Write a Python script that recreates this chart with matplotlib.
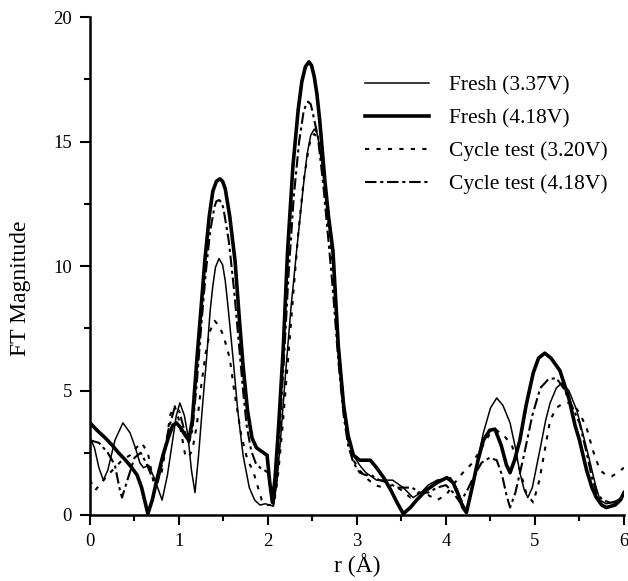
import matplotlib
matplotlib.use("Agg")
import matplotlib.pyplot as plt
from matplotlib.ticker import MultipleLocator

# ── data (r in Å, FT magnitude) ──────────────────────────────────────────────
r_fresh_337 = [0.00, 0.05, 0.10, 0.15, 0.20, 0.28, 0.37, 0.45, 0.51, 0.56, 0.60, 0.66,
               0.72, 0.81, 0.87, 0.92, 0.97, 1.01, 1.06, 1.10, 1.14, 1.18, 1.22, 1.26,
               1.31, 1.35, 1.38, 1.41, 1.45, 1.49, 1.52, 1.55, 1.61, 1.66, 1.72, 1.79,
               1.85, 1.91, 1.97, 2.02, 2.06, 2.10, 2.14, 2.20, 2.26, 2.33, 2.40, 2.44,
               2.48, 2.52, 2.55, 2.58, 2.62, 2.68, 2.73, 2.79, 2.85, 2.90, 2.96, 3.03,
               3.10, 3.22, 3.30, 3.40, 3.52, 3.63, 3.72, 3.80, 3.90, 4.05, 4.13, 4.18,
               4.23, 4.30, 4.36, 4.42, 4.50, 4.57, 4.64, 4.72, 4.78, 4.83, 4.88, 4.92,
               4.97, 5.06, 5.12, 5.17, 5.24, 5.30, 5.38, 5.47, 5.55, 5.62, 5.68, 5.73,
               5.80, 5.86, 5.93, 6.00]
ft_fresh_337 = [3.1, 2.7, 1.9, 1.4, 1.8, 3.0, 3.7, 3.3, 2.7, 2.1, 1.9, 2.0,
                1.5, 0.6, 1.6, 2.8, 4.0, 4.5, 4.0, 3.2, 1.8, 0.9, 2.4, 4.2,
                6.3, 8.2, 9.2, 9.95, 10.3, 10.05, 9.4, 8.4, 6.2, 4.2, 2.4, 1.1,
                0.6, 0.4, 0.45, 0.4, 0.35, 1.3, 3.0, 5.8, 8.4, 10.9, 13.3, 14.5,
                15.25, 15.5, 15.35, 14.8, 13.8, 11.9, 10.4, 7.0, 4.6, 3.2, 2.4, 2.0,
                1.7, 1.4, 1.4, 1.4, 1.1, 0.7, 0.9, 1.2, 1.4, 1.5, 1.0, 0.5,
                0.2, 1.2, 2.3, 3.3, 4.3, 4.7, 4.4, 3.7, 2.7, 1.7, 1.0, 0.7,
                1.1, 2.7, 3.8, 4.5, 5.1, 5.3, 5.0, 4.2, 3.1, 2.1, 1.2, 0.6,
                0.45, 0.5, 0.6, 0.8]

r_fresh_418 = [0.00, 0.08, 0.17, 0.25, 0.32, 0.40, 0.47, 0.53, 0.58, 0.62, 0.65, 0.70,
               0.75, 0.82, 0.88, 0.93, 0.97, 1.02, 1.07, 1.11, 1.15, 1.20, 1.25, 1.29,
               1.34, 1.38, 1.42, 1.46, 1.49, 1.52, 1.57, 1.63, 1.68, 1.72, 1.77, 1.82,
               1.87, 1.93, 1.99, 2.02, 2.05, 2.08, 2.12, 2.17, 2.22, 2.28, 2.34, 2.38,
               2.42, 2.46, 2.49, 2.52, 2.55, 2.58, 2.64, 2.68, 2.73, 2.79, 2.85, 2.90,
               2.96, 3.03, 3.10, 3.15, 3.22, 3.30, 3.38, 3.45, 3.52, 3.60, 3.67, 3.78,
               3.90, 4.01, 4.08, 4.14, 4.19, 4.23, 4.30, 4.36, 4.42, 4.49, 4.55, 4.62,
               4.68, 4.72, 4.77, 4.83, 4.90, 4.98, 5.04, 5.11, 5.18, 5.28, 5.38, 5.45,
               5.50, 5.58, 5.64, 5.69, 5.75, 5.80, 5.90, 5.96, 6.00]
ft_fresh_418 = [3.7, 3.4, 3.1, 2.8, 2.5, 2.2, 1.9, 1.6, 1.1, 0.5, 0.05, 0.6,
                1.4, 2.4, 3.1, 3.6, 3.7, 3.5, 3.2, 3.0, 3.8, 6.2, 8.4, 10.2,
                12.0, 13.0, 13.4, 13.5, 13.4, 13.1, 12.0, 10.2, 7.8, 6.0, 4.2, 3.1,
                2.7, 2.55, 2.4, 1.3, 0.5, 1.5, 3.6, 6.6, 10.6, 14.0, 16.3, 17.4,
                18.0, 18.2, 18.05, 17.6, 16.9, 15.9, 13.4, 12.0, 10.6, 6.8, 4.4, 3.2,
                2.4, 2.2, 2.2, 2.2, 1.9, 1.5, 1.0, 0.5, 0.05, 0.3, 0.6, 1.0,
                1.3, 1.5, 1.3, 0.8, 0.3, 0.1, 1.2, 2.2, 3.0, 3.4, 3.45, 2.8,
                2.0, 1.7, 2.2, 3.0, 4.4, 5.7, 6.3, 6.5, 6.3, 5.8, 4.7, 3.6,
                3.0, 1.8, 1.1, 0.7, 0.4, 0.3, 0.4, 0.6, 0.9]

r_cycle_320 = [0.00, 0.06, 0.13, 0.20, 0.28, 0.36, 0.45, 0.52, 0.58, 0.65, 0.72, 0.80,
               0.85, 0.90, 0.95, 1.00, 1.07, 1.10, 1.15, 1.20, 1.25, 1.30, 1.35, 1.40,
               1.45, 1.50, 1.57, 1.62, 1.70, 1.77, 1.83, 1.88, 1.93, 1.98, 2.03, 2.07,
               2.11, 2.16, 2.22, 2.28, 2.34, 2.40, 2.46, 2.49, 2.52, 2.55, 2.57, 2.62,
               2.68, 2.73, 2.79, 2.85, 2.90, 2.96, 3.03, 3.10, 3.20, 3.30, 3.40, 3.50,
               3.60, 3.70, 3.80, 3.90, 4.00, 4.10, 4.19, 4.30, 4.40, 4.50, 4.57, 4.65,
               4.74, 4.83, 4.90, 4.98, 5.05, 5.12, 5.17, 5.24, 5.32, 5.42, 5.50, 5.58,
               5.65, 5.73, 5.80, 5.86, 5.93, 6.00]
ft_cycle_320 = [1.4, 1.0, 1.3, 1.6, 1.9, 2.2, 2.4, 2.7, 2.9, 2.5, 1.2, 1.6,
                2.7, 4.0, 4.4, 3.8, 2.4, 2.3, 2.6, 3.6, 5.2, 6.5, 7.4, 7.8,
                7.6, 7.2, 6.3, 5.0, 3.2, 2.2, 1.8, 1.2, 0.6, 0.4, 0.4, 0.5,
                1.5, 3.4, 6.0, 8.7, 11.3, 13.4, 14.8, 15.2, 15.3, 15.2, 15.0, 13.8,
                11.6, 10.0, 6.8, 4.4, 3.0, 2.2, 1.8, 1.5, 1.2, 1.1, 1.2, 1.0,
                0.7, 0.9, 0.8, 0.6, 0.8, 1.3, 1.7, 2.1, 2.7, 3.3, 3.4, 3.2,
                2.8, 1.8, 0.9, 0.5, 1.4, 2.8, 3.8, 4.3, 4.5, 4.5, 4.1, 3.5,
                2.6, 1.8, 1.6, 1.55, 1.7, 1.9]

r_cycle_418 = [0.00, 0.10, 0.20, 0.28, 0.33, 0.36, 0.42, 0.50, 0.57, 0.63, 0.70, 0.76,
               0.82, 0.88, 0.95, 1.00, 1.06, 1.11, 1.15, 1.20, 1.25, 1.30, 1.35, 1.40,
               1.42, 1.45, 1.48, 1.50, 1.56, 1.62, 1.67, 1.72, 1.76, 1.81, 1.86, 1.91,
               1.96, 2.00, 2.03, 2.06, 2.09, 2.13, 2.18, 2.23, 2.29, 2.35, 2.40, 2.43,
               2.45, 2.48, 2.50, 2.56, 2.62, 2.68, 2.73, 2.79, 2.85, 2.90, 2.96, 3.03,
               3.10, 3.16, 3.25, 3.35, 3.45, 3.55, 3.62, 3.70, 3.80, 3.90, 4.00, 4.08,
               4.16, 4.24, 4.32, 4.40, 4.49, 4.57, 4.63, 4.68, 4.72, 4.78, 4.87, 4.97,
               5.06, 5.15, 5.24, 5.32, 5.40, 5.50, 5.58, 5.64, 5.69, 5.76, 5.84, 5.92,
               6.00]
ft_cycle_418 = [3.0, 2.9, 2.5, 2.0, 1.1, 0.7, 1.4, 2.3, 2.5, 2.1, 1.5, 1.3,
                2.2, 3.4, 4.3, 4.2, 3.4, 2.9, 3.4, 5.3, 7.6, 9.7, 11.4, 12.4,
                12.6, 12.65, 12.55, 12.3, 11.0, 9.0, 7.0, 5.0, 3.6, 2.6, 2.1, 1.9,
                1.8, 1.7, 1.0, 0.4, 1.3, 3.4, 6.3, 9.6, 12.8, 15.0, 16.2, 16.5,
                16.6, 16.5, 16.2, 15.2, 13.3, 11.0, 9.0, 6.2, 4.0, 2.8, 2.1, 1.7,
                1.6, 1.6, 1.4, 1.3, 1.1, 1.1, 1.1, 0.9, 0.9, 1.1, 1.2, 0.9,
                0.5, 1.0, 1.6, 2.1, 2.3, 2.2, 1.6, 0.8, 0.3, 0.9, 2.3, 4.0,
                5.1, 5.45, 5.5, 5.1, 4.5, 3.7, 2.5, 1.5, 0.9, 0.6, 0.5, 0.5,
                0.7]

labels = ["Fresh (3.37V)", "Fresh (4.18V)", "Cycle test (3.20V)", "Cycle test (4.18V)"]

plt.rcParams["font.family"] = ["Liberation Serif", "DejaVu Serif"]
plt.rcParams["font.size"] = 13.5

fig = plt.figure(figsize=(6.28, 5.81), dpi=100)
ax = fig.add_axes([0.1433, 0.1136, 0.8503, 0.8571])

ax.plot(r_fresh_337, ft_fresh_337, color="black", lw=1.1, label=labels[0])
ax.plot(r_fresh_418, ft_fresh_418, color="black", lw=2.6, label=labels[1])
ax.plot(r_cycle_320, ft_cycle_320, color="black", lw=1.5,
        linestyle=(0, (2, 3.5)), label=labels[2])
ax.plot(r_cycle_418, ft_cycle_418, color="black", lw=1.5,
        linestyle=(0, (5.5, 1.8, 1.5, 1.8)), label=labels[3])

ax.set_xlim(0, 6)
ax.set_ylim(0, 20)
ax.xaxis.set_major_locator(MultipleLocator(1))
ax.xaxis.set_minor_locator(MultipleLocator(0.5))
ax.yaxis.set_major_locator(MultipleLocator(5))
ax.yaxis.set_minor_locator(MultipleLocator(2.5))
ax.tick_params(which="major", direction="out", length=7, width=1.5, pad=6)
ax.tick_params(which="minor", direction="out", length=4, width=1.5)
for side in ("top", "right"):
    ax.spines[side].set_visible(False)
for side in ("left", "bottom"):
    ax.spines[side].set_linewidth(1.8)

ax.set_xlabel("r (Å)", fontsize=17, labelpad=2)
ax.set_ylabel("FT Magnitude", fontsize=17)
ax.yaxis.set_label_coords(-0.11, 0.456)

ax.legend(loc="upper left", bbox_to_anchor=(0.550, 0.904),
          bbox_transform=fig.transFigure, frameon=False, fontsize=15.5,
          handlelength=3.0, handletextpad=0.93, labelspacing=0.6)

fig.savefig("out.png", dpi=100)
